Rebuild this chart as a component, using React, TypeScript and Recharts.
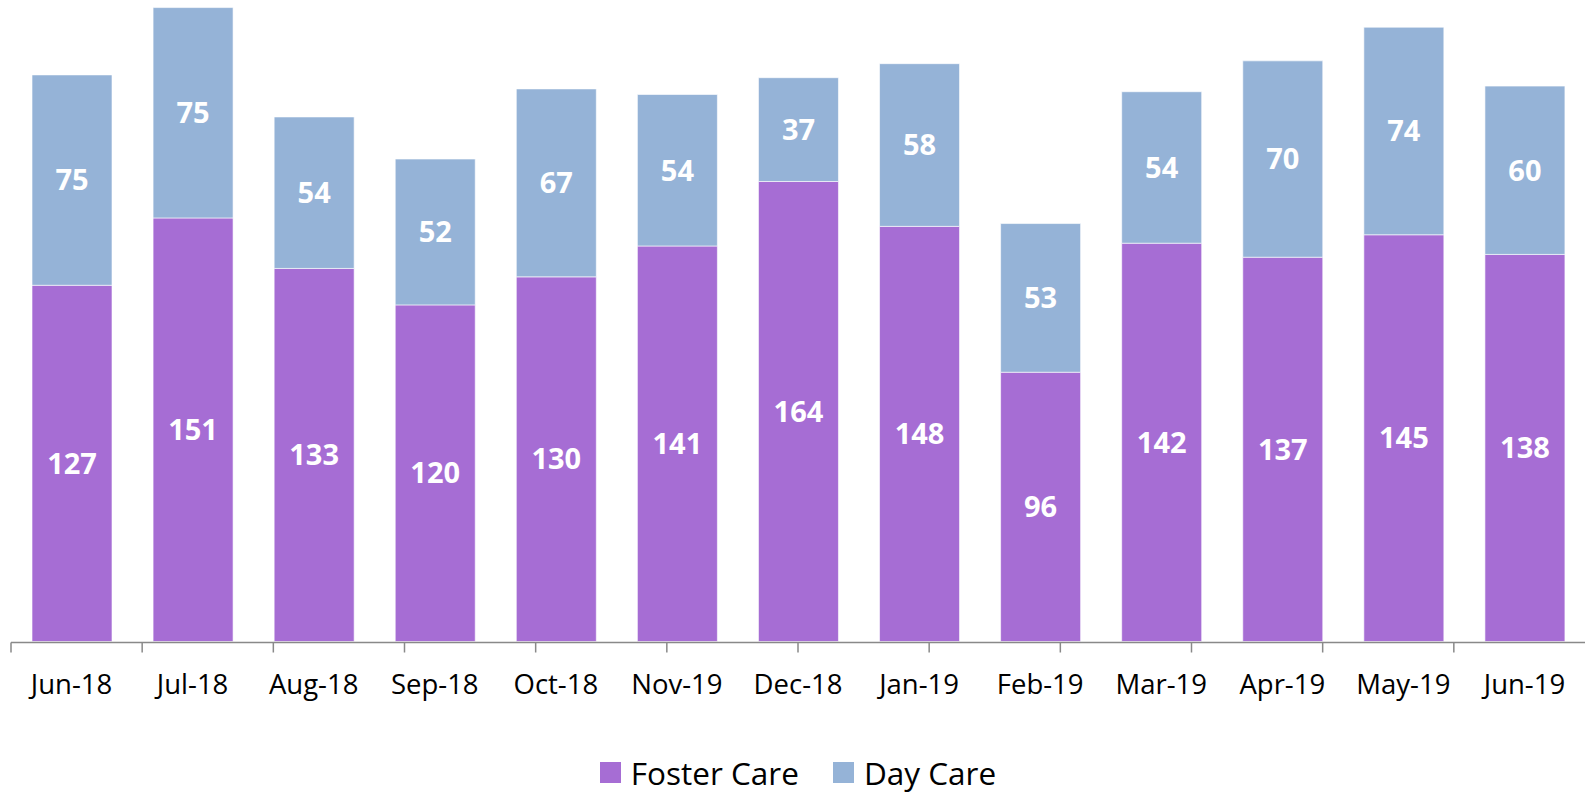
import { BarChart, Bar, XAxis, YAxis, Legend, LabelList } from "recharts";

const MONTHS = [
  "Jun-18", "Jul-18", "Aug-18", "Sep-18", "Oct-18", "Nov-19", "Dec-18",
  "Jan-19", "Feb-19", "Mar-19", "Apr-19", "May-19", "Jun-19",
];
const FOSTER_CARE = [127, 151, 133, 120, 130, 141, 164, 148, 96, 142, 137, 145, 138];
const DAY_CARE = [75, 75, 54, 52, 67, 54, 37, 58, 53, 54, 70, 74, 60];
const SERIES = ["Foster Care", "Day Care"];

const PURPLE = "#A66DD4";
const BLUE = "#95B3D7";
const AXIS_GRAY = "#898989";
const FONT = "'Open Sans', sans-serif";

const data = MONTHS.map((month, i) => ({
  month,
  foster: FOSTER_CARE[i],
  day: DAY_CARE[i],
}));

// tick marks sit between categories, like Excel does
const EDGE_TICKS = [...MONTHS.map((_, i) => i), MONTHS.length];

const LegendContent = ({ payload }: { payload?: { value: string; color: string }[] }) => {
  const items = [...(payload ?? [])].sort(
    (a, b) => SERIES.indexOf(a.value) - SERIES.indexOf(b.value)
  );
  return (
    <div
      style={{
        height: 149.5,
        boxSizing: "border-box",
        paddingTop: 117,
        display: "flex",
        justifyContent: "center",
        gap: 34,
        fontFamily: FONT,
        fontSize: 31.5,
        color: "#000",
      }}
    >
      {items.map((item) => (
        <div key={item.value} style={{ display: "flex", alignItems: "center", gap: 10, height: 24 }}>
          <div style={{ width: 21, height: 21, background: item.color }} />
          <div style={{ lineHeight: "24px", height: 24 }}>{item.value}</div>
        </div>
      ))}
    </div>
  );
};

export default function App() {
  return (
    <div style={{ position: "absolute", left: 0, top: 0 }}>
      <BarChart
        width={1586}
        height={793}
        data={data}
        margin={{ top: 0, right: 1, left: 11, bottom: 0 }}
        style={{ fontFamily: FONT }}
      >
        <XAxis
          xAxisId="edge"
          type="number"
          domain={[0, MONTHS.length]}
          ticks={EDGE_TICKS}
          allowDataOverflow
          height={1}
          tickSize={10}
          tickFormatter={() => ""}
          axisLine={{ stroke: AXIS_GRAY, strokeWidth: 1.5 }}
          tickLine={{ stroke: AXIS_GRAY, strokeWidth: 1.5 }}
        />
        <XAxis
          dataKey="month"
          height={1}
          interval={0}
          axisLine={false}
          tickLine={false}
          tickSize={0}
          tickMargin={33}
          tick={{ fill: "#000", fontSize: 27.5, fontFamily: FONT }}
        />
        <YAxis hide domain={[0, 228.7]} allowDataOverflow />
        <Legend verticalAlign="bottom" content={<LegendContent />} />
        <Bar
          dataKey="foster"
          name="Foster Care"
          stackId="a"
          fill={PURPLE}
          stroke="#ffffff"
          strokeOpacity={0.6}
          strokeWidth={1}
          barSize={80}
          isAnimationActive={false}
        >
          <LabelList
            dataKey="foster"
            position="center"
            fill="#fff"
            style={{ fontSize: 29, fontWeight: 700, fontFamily: FONT }}
          />
        </Bar>
        <Bar
          dataKey="day"
          name="Day Care"
          stackId="a"
          fill={BLUE}
          stroke="#ffffff"
          strokeOpacity={0.6}
          strokeWidth={1}
          barSize={80}
          isAnimationActive={false}
        >
          <LabelList
            dataKey="day"
            position="center"
            fill="#fff"
            style={{ fontSize: 29, fontWeight: 700, fontFamily: FONT }}
          />
        </Bar>
      </BarChart>
    </div>
  );
}
